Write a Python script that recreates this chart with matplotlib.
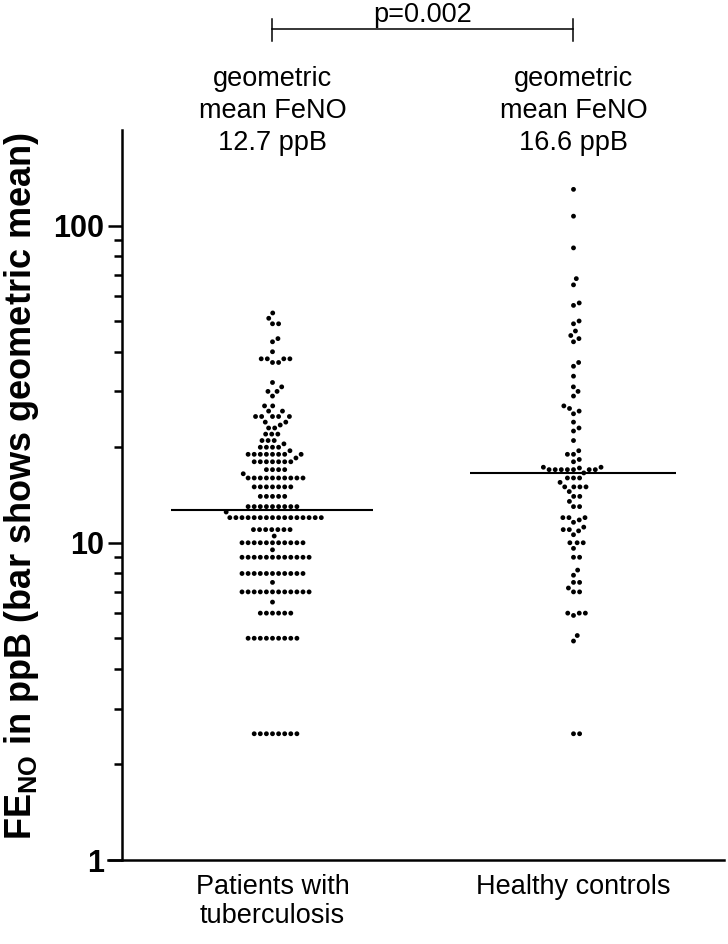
import numpy as np
import matplotlib
matplotlib.use("Agg")
import matplotlib.pyplot as plt
import matplotlib.transforms as mtransforms
from matplotlib.ticker import FixedLocator, NullFormatter

plt.rcParams["font.family"] = ["Liberation Sans", "DejaVu Sans"]
plt.rcParams["mathtext.fontset"] = "custom"
plt.rcParams["mathtext.rm"] = "Liberation Sans"
plt.rcParams["mathtext.bf"] = "Liberation Sans:bold"

groups = ["Patients with\ntuberculosis", "Healthy controls"]
geo_means = [12.7, 16.6]
p_text = "p=0.002"

# FeNO (ppB): level + how many dots sit on it
tb_levels = [2.5, 5, 6, 6.5, 7, 7.5, 8, 9, 9.5, 10, 10.5, 11, 12, 12.5, 13, 14, 15, 16,
             16.5, 17, 18, 18.5, 19, 19.5, 20, 20.5, 21, 22, 23, 23.5, 24, 25, 26, 27,
             29, 30, 31, 32, 37, 38, 40, 43, 44, 49, 51, 53]
tb_counts = [8, 9, 6, 1, 12, 1, 11, 12, 1, 11, 1, 7, 16, 1, 9, 5, 7, 10,
             1, 4, 7, 1, 8, 1, 4, 1, 3, 3, 2, 1, 2, 5, 2, 2,
             1, 2, 1, 1, 2, 4, 1, 1, 1, 2, 1, 1]
tb = np.repeat(tb_levels, tb_counts)

hc = np.array([130, 107, 85, 68, 65, 57, 56, 50, 49, 46.5, 45, 44, 43, 37, 36, 33.5, 31, 30,
               29, 27, 26.5, 26, 25.5, 24, 23, 22.5, 21, 19.5, 19, 19, 18.3, 18, 17.3, 17.3,
               17, 17, 17, 17, 17, 17, 17, 17.2, 16.6, 16, 16, 16, 15.5, 15, 15, 15, 15,
               14.5, 14, 14, 13.5, 13, 13, 12, 12, 12, 11.8, 11.6, 11.2, 11, 11, 10.9, 10.6,
               10, 10, 10, 9.6, 9, 9, 8.2, 7.9, 7.5, 7.5, 7.2, 7, 7, 6, 6, 6, 5.9, 5.1, 4.9,
               2.5, 2.5])

fig = plt.figure(figsize=(7.28, 9.44), dpi=100)
ax = fig.add_axes([122 / 728, 84 / 944, 602 / 728, 730 / 944])
ax.set_yscale("log")
ax.set_ylim(1, 200)
ax.set_xlim(-0.5, 1.5)


def swarm(vals, center, d=6.1, dyt=7.0):
    # beeswarm in pixel space: each dot takes the free slot nearest the centre
    ys = ax.transData.transform(np.column_stack([np.full(len(vals), center), vals]))[:, 1]
    ppu = ax.transData.transform((1, 1))[0] - ax.transData.transform((0, 1))[0]
    placed, xs = [], np.zeros(len(vals))
    for i in np.argsort(ys, kind="stable"):
        y = ys[i]
        near = [(px, py) for px, py in placed if abs(py - y) < dyt]
        cands = [0.0]
        for px, py in near:
            need = d * np.sqrt(1 - ((py - y) / dyt) ** 2)
            cands += [px - need, px + need]
        cands.sort(key=lambda c: (round(abs(c), 6), -c))
        for c in cands:
            if all(((c - px) / d) ** 2 + ((y - py) / dyt) ** 2 >= 1 - 1e-6 for px, py in near):
                break
        placed.append((c, y))
        xs[i] = center + c / ppu
    return xs


for k, vals in enumerate([tb, hc]):
    ax.scatter(swarm(vals, k), vals, s=12, color="black", edgecolors="none", zorder=3)

ax.hlines(geo_means[0], -0.337, 0.334, color="black", lw=1.5, zorder=4)
ax.hlines(geo_means[1], 0.656, 1.34, color="black", lw=1.5, zorder=4)

# axes styling
for s in ["top", "right"]:
    ax.spines[s].set_visible(False)
ax.spines["left"].set_linewidth(1.8)
ax.spines["bottom"].set_linewidth(1.8)
ax.spines["bottom"].set_bounds(-0.547, 1.5)
ax.yaxis.set_major_locator(FixedLocator([1, 10, 100]))
ax.yaxis.set_minor_locator(FixedLocator([2, 3, 4, 5, 6, 7, 8, 9, 20, 30, 40, 50, 60, 70, 80, 90]))
ax.yaxis.set_minor_formatter(NullFormatter())
ax.set_yticklabels(["1", "10", "100"], fontsize=22, fontweight="bold")
ax.tick_params(axis="y", which="major", length=10, width=1.8, pad=3)
ax.tick_params(axis="y", which="minor", length=6, width=1.8)
ax.set_xticks([0, 1])
ax.set_xticklabels(groups, fontsize=19.5, linespacing=1.15)
ax.tick_params(axis="x", length=0, pad=10)

fig.text(22 / 728, 1 - 486 / 944, r"$\mathbf{FE_{NO}}$ in ppB (bar shows geometric mean)",
         rotation=90, ha="center", va="center", fontsize=26, fontweight="bold")

# annotations above the groups
tr = mtransforms.blended_transform_factory(ax.transData, fig.transFigure)
for k, gm in enumerate(geo_means):
    ax.text(k, 1 - 111 / 944, f"geometric\nmean FeNO\n{gm} ppB", transform=tr,
            ha="center", va="center", fontsize=19.5, linespacing=1.3)
yb = 1 - 29 / 944
ax.plot([0, 1], [yb, yb], color="black", lw=1.1, transform=tr, clip_on=False)
for k in [0, 1]:
    ax.plot([k, k], [1 - 19 / 944, 1 - 41 / 944], color="black", lw=1.1, transform=tr, clip_on=False)
ax.text(0.5, 1 - 22 / 944, p_text, transform=tr, ha="center", va="baseline", fontsize=19.5)

fig.savefig("out.png", dpi=100)
